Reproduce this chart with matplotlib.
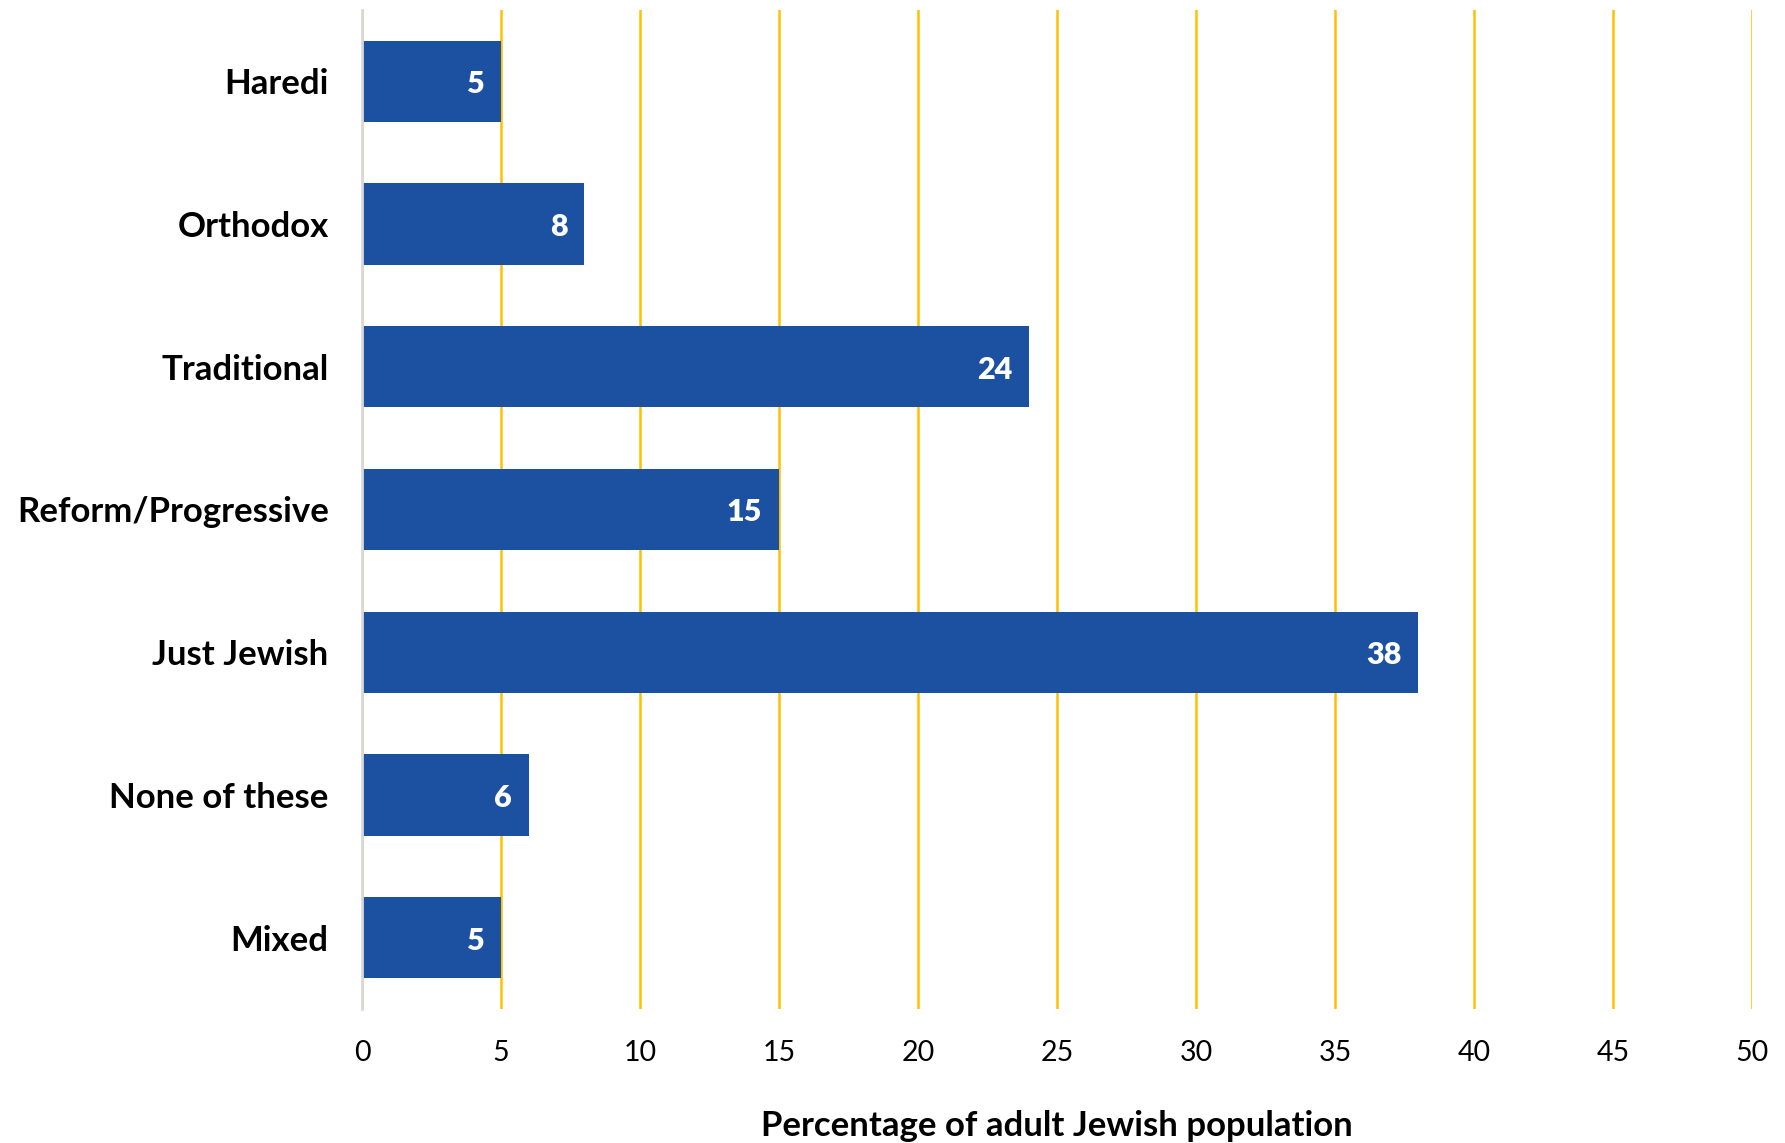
import matplotlib.pyplot as plt

categories = ["Haredi", "Orthodox", "Traditional", "Reform/Progressive",
              "Just Jewish", "None of these", "Mixed"]
values = [5, 8, 24, 15, 38, 6, 5]
xticks = [0, 5, 10, 15, 20, 25, 30, 35, 40, 45, 50]

plt.rcParams['font.family'] = ['Lato', 'DejaVu Sans']

fig = plt.figure(figsize=(17.85, 11.43), dpi=100)
ax = fig.add_axes([0.2028, 0.1172, 0.7787, 0.8741])

ypos = list(range(len(categories)))
ax.barh(ypos, values, height=0.57, color="#1C51A2", zorder=3)
ax.set_ylim(len(categories) - 0.5, -0.5)
ax.set_xlim(0, 50)
ax.set_xticks(xticks)
ax.set_xticklabels([str(t) for t in xticks], fontsize=20.5)
ax.set_yticks(ypos)
ax.set_yticklabels(categories, fontsize=25, fontweight="bold")
ax.tick_params(axis="both", length=0)
ax.tick_params(axis="x", pad=22)
ax.tick_params(axis="y", pad=24)

ax.grid(axis="x", color="#FFC000", linewidth=1.8, zorder=0)
for s in ["top", "right", "bottom"]:
    ax.spines[s].set_visible(False)
ax.spines["left"].set_color("#D9D9D9")
ax.spines["left"].set_linewidth(2)
ax.spines["left"].set_zorder(4)

for y, v in zip(ypos, values):
    ax.text(v - 0.6, y + 0.02, str(v), ha="right", va="center", color="white",
            fontsize=22, fontweight="heavy", zorder=5)

ax.set_xlabel("Percentage of adult Jewish population", fontsize=25,
              fontweight="bold", labelpad=32)

fig.savefig("out.png", dpi=100)
